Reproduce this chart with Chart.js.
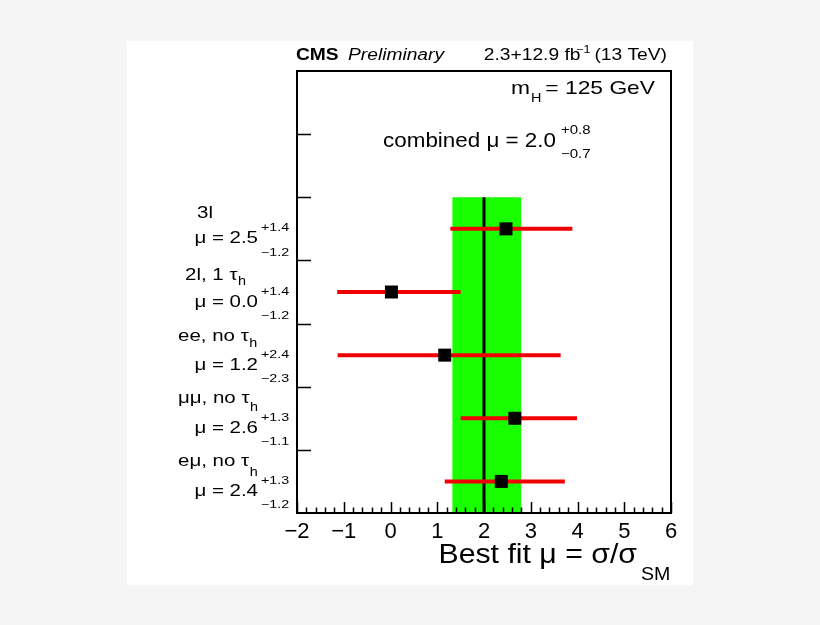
<!DOCTYPE html>
<html>
<head>
<meta charset="utf-8">
<script src="https://cdn.jsdelivr.net/npm/chart.js@4.4.1/dist/chart.umd.min.js"></script>
<style>
  html, body { margin: 0; padding: 0; background: #f5f5f5; }
  canvas { display: block; }
</style>
</head>
<body>
<canvas id="fitChart" width="820" height="625"></canvas>
<script>
// Channel data
const channelNames = ['3l', '2l, 1 τ', 'ee, no τ', 'μμ, no τ', 'eμ, no τ'];
const channelSubs = ['', 'h', 'h', 'h', 'h'];
const rowY = [4.5, 3.5, 2.5, 1.5, 0.5];
const muText = ['2.5', '0.0', '1.2', '2.6', '2.4'];
const upText = ['+1.4', '+1.4', '+2.4', '+1.3', '+1.3'];
const downText = ['\u22121.2', '\u22121.2', '\u22122.3', '\u22121.1', '\u22121.2'];
const muFit = [2.47, 0.02, 1.16, 2.66, 2.37];
const errLow = [1.28, -1.14, -1.13, 1.50, 1.16];
const errHigh = [3.89, 1.50, 3.64, 3.99, 3.73];

// Combined result
const combMu = 2.0;
const combLow = 1.32;
const combHigh = 2.80;
const combTop = 5;

const xTicks = [-2, -1, 0, 1, 2, 3, 4, 5, 6];

// label layout (pixels)
const nameLeft = [197, 185, 178, 178, 178];
const nameDy = [-11, -12.5, -14, -15.5, -15.5];
const subDy = [0, 5, 5.5, 8.5, 10];

const FONT = '"Liberation Sans", Arial, Helvetica, sans-serif';

// draw text with a horizontal stretch, returns drawn width
function txt(ctx, s, x, y, size, opt) {
    opt = opt || {};
    const sx = opt.sx || 1;
    ctx.save();
    ctx.font = (opt.style || '') + ' ' + size + 'px ' + FONT;
    ctx.fillStyle = '#000';
    ctx.textBaseline = 'alphabetic';
    ctx.textAlign = opt.align || 'left';
    ctx.translate(x, y);
    ctx.scale(sx, 1);
    ctx.fillText(s, 0, 0);
    const w = ctx.measureText(s).width * sx;
    ctx.restore();
    return w;
}

const bgPlugin = {
    id: 'bg',
    beforeDraw(chart) {
        const ctx = chart.ctx;
        ctx.save();
        ctx.fillStyle = '#f5f5f5';
        ctx.fillRect(0, 0, chart.width, chart.height);
        ctx.fillStyle = '#ffffff';
        ctx.fillRect(127, 41, 566, 544);
        ctx.restore();
    }
};

const framePlugin = {
    id: 'frame',
    afterDatasetsDraw(chart) {
        const ctx = chart.ctx;
        const a = chart.chartArea;
        const xs = chart.scales.x, ys = chart.scales.y;
        ctx.save();
        ctx.strokeStyle = '#000';
        ctx.lineWidth = 2;
        ctx.strokeRect(a.left, a.top, a.right - a.left, a.bottom - a.top);
        ctx.lineWidth = 1.5;
        ctx.beginPath();
        // x ticks, inward, minor every 0.2
        for (let k = 0; k <= 40; k++) {
            const v = -2 + k * 0.2;
            const px = Math.round(xs.getPixelForValue(v)) + 0.5;
            const len = k % 5 === 0 ? 11 : 5.5;
            ctx.moveTo(px, a.bottom);
            ctx.lineTo(px, a.bottom - len);
        }
        // y ticks
        for (let v = 1; v <= 6; v++) {
            const py = Math.round(ys.getPixelForValue(v)) + 0.5;
            ctx.moveTo(a.left, py);
            ctx.lineTo(a.left + 14, py);
        }
        ctx.stroke();
        ctx.restore();
    }
};

const textPlugin = {
    id: 'texts',
    afterDraw(chart) {
        const ctx = chart.ctx;
        const ys = chart.scales.y;

        // header
        txt(ctx, 'CMS', 296, 59.5, 16, { style: 'bold', sx: 1.2 });
        txt(ctx, 'Preliminary', 348, 59.5, 16, { style: 'italic', sx: 1.2 });
        let w = txt(ctx, '(13 TeV)', 667, 59.5, 16, { sx: 1.2, align: 'right' });
        txt(ctx, '\u22121', 667 - w - 4, 53, 10.5, { sx: 1.2, align: 'right' });
        txt(ctx, '2.3+12.9 fb', 667 - w - 14, 59.5, 16, { sx: 1.2, align: 'right' });

        // mass
        w = txt(ctx, 'm', 511, 94, 19, { sx: 1.2 });
        txt(ctx, 'H', 511 + w + 1, 101.5, 12, { sx: 1.2 });
        txt(ctx, '= 125 GeV', 655, 94, 19, { sx: 1.2, align: 'right' });

        // combined
        txt(ctx, 'combined \u03bc = ' + combMu.toFixed(1), 556, 146.5, 20, { sx: 1.12, align: 'right' });
        txt(ctx, '+' + (combHigh - combMu).toFixed(1), 561, 134, 12.5, { sx: 1.2 });
        txt(ctx, '\u2212' + (combMu - combLow).toFixed(1), 561, 157.5, 12.5, { sx: 1.2 });

        // channel labels
        for (let i = 0; i < channelNames.length; i++) {
            const py = ys.getPixelForValue(rowY[i]);
            const nw = txt(ctx, channelNames[i], nameLeft[i], py + nameDy[i], 16, { sx: 1.28 });
            if (channelSubs[i]) {
                txt(ctx, channelSubs[i], nameLeft[i] + nw + 0.5, py + nameDy[i] + subDy[i], 12, { sx: 1.2 });
            }
            txt(ctx, '\u03bc = ' + muText[i], 258, py + 14.5, 16, { sx: 1.28, align: 'right' });
            txt(ctx, upText[i], 261, py + 2.5, 11, { sx: 1.3 });
            txt(ctx, downText[i], 261, py + 27, 11, { sx: 1.3 });
        }

        // x title
        txt(ctx, 'Best fit \u03bc = \u03c3/\u03c3', 637, 563, 27.5, { sx: 1.1, align: 'right' });
        txt(ctx, 'SM', 641, 580, 17.5, { sx: 1.12 });
    }
};

document.addEventListener('DOMContentLoaded', function () {
    const ctx = document.getElementById('fitChart').getContext('2d');

    const datasets = [];

    // green combined band
    datasets.push({
        data: [{ x: combLow, y: 0 }, { x: combLow, y: combTop }, { x: combHigh, y: combTop }, { x: combHigh, y: 0 }],
        borderWidth: 0,
        pointRadius: 0,
        backgroundColor: '#1aff00',
        fill: 'origin',
        tension: 0,
        order: 4
    });

    // combined central value
    datasets.push({
        data: [{ x: combMu, y: 0 }, { x: combMu, y: combTop }],
        borderColor: '#000000',
        borderWidth: 3,
        pointRadius: 0,
        fill: false,
        order: 3
    });

    // error bars per channel
    rowY.forEach(function (y, i) {
        datasets.push({
            data: [{ x: errLow[i], y: y }, { x: errHigh[i], y: y }],
            borderColor: '#f00000',
            borderWidth: 4,
            borderCapStyle: 'butt',
            pointRadius: 0,
            fill: false,
            order: 2
        });
    });

    // best fit markers
    datasets.push({
        data: muFit.map(function (m, i) { return { x: m, y: rowY[i] }; }),
        showLine: false,
        pointStyle: 'rect',
        pointRadius: 9.2,
        pointBackgroundColor: '#000000',
        pointBorderWidth: 0,
        order: 1
    });

    new Chart(ctx, {
        type: 'line',
        data: { datasets: datasets },
        options: {
            responsive: false,
            animation: false,
            events: [],
            layout: { padding: { left: 297, right: 149, top: 71, bottom: 82 } },
            plugins: {
                legend: { display: false },
                tooltip: { enabled: false }
            },
            scales: {
                x: {
                    type: 'linear',
                    min: xTicks[0],
                    max: xTicks[xTicks.length - 1],
                    afterFit: function (s) { s.height = 30; },
                    afterBuildTicks: function (s) {
                        s.ticks = xTicks.map(function (v) { return { value: v }; });
                    },
                    grid: { display: false, drawTicks: false },
                    border: { display: false },
                    ticks: {
                        autoSkip: false,
                        maxRotation: 0,
                        padding: 6,
                        color: '#000',
                        font: { family: FONT, size: 22 },
                        callback: function (v) { return v < 0 ? '\u2212' + Math.abs(v) : String(v); }
                    }
                },
                y: {
                    type: 'linear',
                    min: 0,
                    max: 7,
                    display: false
                }
            }
        },
        plugins: [bgPlugin, framePlugin, textPlugin]
    });
});
</script>
</body>
</html>
